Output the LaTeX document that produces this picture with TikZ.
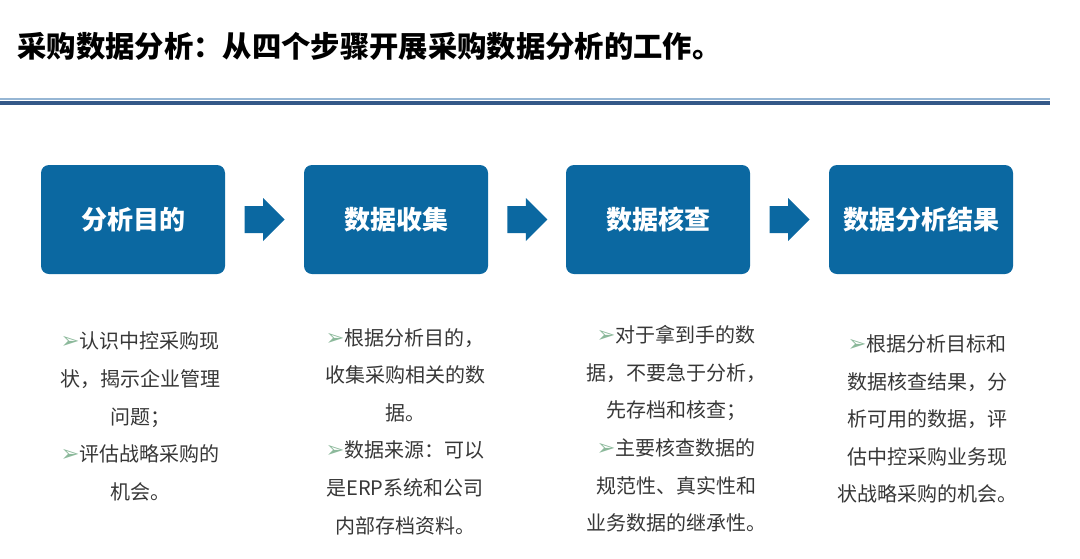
\documentclass[tikz,border=0pt]{standalone}
\usepackage{fontspec}
\usetikzlibrary{shapes.arrows}
\newfontfamily\cjk{Noto Sans CJK SC}
\newfontfamily\symfont{DejaVu Sans}
\definecolor{stepblue}{RGB}{11,104,161}
\definecolor{ruledark}{RGB}{52,88,136}
\definecolor{rulelight}{RGB}{150,182,212}
\definecolor{bodygrey}{RGB}{55,55,55}
\definecolor{bulletgreen}{RGB}{140,185,155}
\newcommand{\bul}{{\color{bulletgreen}\symfont\fontsize{17}{17}\selectfont ➢}}

\tikzset{every picture/.style={line width=0.75pt}}
\tikzset{
  stepbox/.style={fill=stepblue, rounded corners=6pt, minimum width=138pt, minimum height=81.75pt,
    inner sep=0pt, text=white, font={\cjk\bfseries\fontsize{19.5}{22}\selectfont}},
  blockarrow/.style={single arrow, fill=stepblue, inner xsep=0pt, inner ysep=9.75pt,
    minimum height=30pt, single arrow head extend=6pt, anchor=tail},
  bodytext/.style={align=center, inner sep=0pt, text=bodygrey,
    font={\cjk\fontsize{15}{28.2}\selectfont}}
}

\begin{document}
\begin{tikzpicture}[x=0.75pt,y=0.75pt,yscale=-1,xscale=1]
		\useasboundingbox (0,0) rectangle (1080,558);
		
		% Title
		\node [anchor=west, inner sep=0pt, font={\cjk\bfseries\fontsize{22}{24}\selectfont}] (title) at (17,46) {采购数据分析：从四个步骤开展采购数据分析的工作。};
		
		%Straight Lines
		\draw [rulelight, line width=1.2pt] (0,99) -- (1050,99) ;
		%Straight Lines
		\draw [ruledark, line width=3.4pt] (0,103) -- (1050,103) ;
		
		% Step Boxes
		\node [stepbox] (goal) at (133,219.5) {分析目的};
		\node [stepbox] (collect) at (396,219.5) {数据收集};
		\node [stepbox] (check) at (658,219.5) {数据核查};
		\node [stepbox] (result) at (921,219.5) {数据分析结果};
		
		% Block Arrows
		\path (goal.east) -- (collect.west) node [pos=0.24, blockarrow] (arr1) {};
		\path (collect.east) -- (check.west) node [pos=0.24, blockarrow] (arr2) {};
		\path (check.east) -- (result.west) node [pos=0.24, blockarrow] (arr3) {};
		
		% Text Node
		\node [bodytext] (goaltext) at (140,416.5) {\bul 认识中控采购现\\状，揭示企业管理\\问题；\\\bul 评估战略采购的\\机会。};
		% Text Node
		\node [bodytext] (collecttext) at (405,431.5) {\bul 根据分析目的，\\收集采购相关的数\\据。\\\bul 数据来源：可以\\是ERP系统和公司\\内部存档资料。};
		% Text Node
		\node [bodytext] (checktext) at (676,429) {\bul 对于拿到手的数\\据，不要急于分析，\\先存档和核查；\\\bul 主要核查数据的\\规范性、真实性和\\业务数据的继承性。};
		% Text Node
		\node [bodytext] (resulttext) at (927,419) {\bul 根据分析目标和\\数据核查结果，分\\析可用的数据，评\\估中控采购业务现\\状战略采购的机会。};
		
	\end{tikzpicture}
\end{document}
